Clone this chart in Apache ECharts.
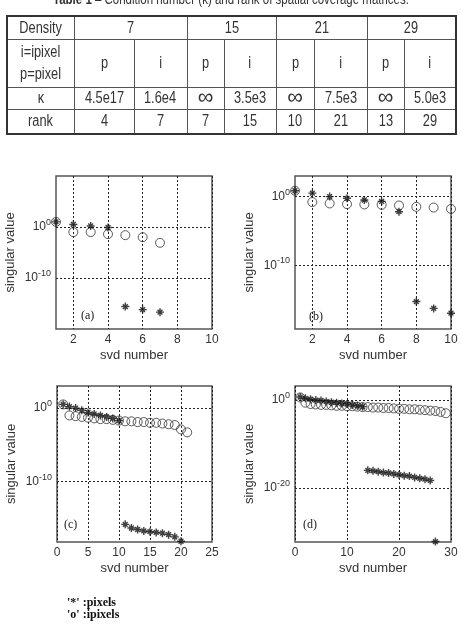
<!DOCTYPE html>
<html>
<head>
<meta charset="utf-8">
<script src="https://cdn.jsdelivr.net/npm/echarts@6/dist/echarts.min.js"></script>
<style>
  body { margin: 0; background: #fff; }
  #chart { position: absolute; left: 0; top: 0; width: 461px; height: 624px; }
  #caption {
    position: absolute; left: 0; top: -9px; width: 461px; text-align: center;
    font: 14px 'Liberation Sans', sans-serif; color: #333;
  }
  #caption span { display: inline-block; transform: scaleX(0.82); white-space: nowrap; }
  #tbl {
    position: absolute; left: 6px; top: 15px; width: 449px;
    border-collapse: collapse; table-layout: fixed;
    font: 16px 'Liberation Sans', sans-serif; color: #333;
    border: 2px solid #333;
  }
  #tbl td { border: 1px solid #555; text-align: center; vertical-align: middle; padding: 0; }
  #tbl td span { display: inline-block; transform: scaleX(0.8); white-space: nowrap; }
  #tbl td span.inf { font-size: 22px; line-height: 16px; transform: none; }
</style>
</head>
<body>
<div id="chart"></div>
<div id="caption"><span><b>Table 1</b> – Condition number (κ) and rank of spatial coverage matrices.</span></div>
<table id="tbl"></table>
<script>
// table data
const densities = [7, 15, 21, 29];
const kappaPixel = ['4.5e17', '∞', '∞', '∞'];
const kappaIpixel = ['1.6e4', '3.5e3', '7.5e3', '5.0e3'];
const rankPixel = [4, 7, 10, 13];
const rankIpixel = [7, 15, 21, 29];

// log10 of singular values, index = svd number - 1
const pixelsA = [1.0, 0.5, 0.2, -0.1, -15.6, -16.2, -16.7];
const ipixelsA = [1.0, -1.0, -1.0, -1.4, -1.6, -2.0, -3.1];
const pixelsB = [0.85, 0.5, 0.0, -0.25, -0.5, -0.7, -2.2, -15.3, -16.3, -17.0];
const ipixelsB = [0.85, -0.8, -1.0, -1.1, -1.15, -1.2, -1.3, -1.5, -1.6, -1.8];
const pixelsC = [0.5, 0.2, 0.0, -0.3, -0.6, -0.8, -1.0, -1.2, -1.4, -1.7,
  -15.8, -16.3, -16.5, -16.7, -16.8, -16.9, -17.0, -17.2, -17.5, -18.1];
const ipixelsC = [0.5, -1.0, -1.1, -1.2, -1.3, -1.4, -1.5, -1.5, -1.6, -1.7, -1.8,
  -1.8, -1.9, -1.9, -2.0, -2.0, -2.1, -2.2, -2.3, -2.9, -3.3];
const pixelsD = [0.7, 0.4, 0.2, 0.0, -0.1, -0.3, -0.5, -0.6, -0.8, -0.9, -1.1, -1.3, -1.5,
  -16.0, -16.1, -16.3, -16.5, -16.6, -16.8, -17.0, -17.2, -17.3, -17.6, -17.8, -18.0, -18.3,
  -32.2];
const ipixelsD = [0.6, -0.6, -0.9, -1.0, -1.1, -1.1, -1.2, -1.3, -1.3, -1.4, -1.4, -1.5, -1.6,
  -1.6, -1.7, -1.7, -1.8, -1.8, -1.9, -2.0, -2.0, -2.1, -2.1, -2.2, -2.3, -2.4, -2.5, -2.7, -3.0];

const panelNames = ['(a)', '(b)', '(c)', '(d)'];
const xTicks = [[2, 4, 6, 8, 10], [2, 4, 6, 8, 10], [0, 5, 10, 15, 20, 25], [0, 10, 20, 30]];
const yTicks = [[-10, 0], [-10, 0], [-10, 0], [-20, 0]];
const xRange = [[1, 10], [1, 10], [0, 25], [0, 30]];
const yRange = [[-20, 10], [-19.3, 3], [-18.2, 3], [-32.3, 3.2]];

// build table
(function () {
    const tbl = document.getElementById('tbl');
    const widths = [67, 60, 53, 37, 52, 38, 53, 37, 52];
    const c = (t, attr) => '<td' + (attr || '') + '><span' + (t === '∞' ? ' class="inf"' : '') + '>' + t + '</span></td>';
    let html = '<colgroup>' + widths.map(w => '<col style="width:' + w + 'px">').join('') + '</colgroup>';
    html += '<tr style="height:23px">' + c('Density') +
        densities.map(d => c(d, ' colspan="2"')).join('') + '</tr>';
    html += '<tr style="height:48px">' + c('i=ipixel<br>p=pixel', ' style="line-height:22px"') +
        densities.map(() => c('p') + c('i')).join('') + '</tr>';
    html += '<tr style="height:22px">' + c('κ') +
        densities.map((d, i) => c(kappaPixel[i]) + c(kappaIpixel[i])).join('') + '</tr>';
    html += '<tr style="height:25px">' + c('rank') +
        densities.map((d, i) => c(rankPixel[i]) + c(rankIpixel[i])).join('') + '</tr>';
    tbl.innerHTML = html;
})();

const myChart = echarts.init(document.getElementById('chart'));

const gridPos = [
    { left: 56, top: 176, width: 156, height: 153 },
    { left: 295, top: 176, width: 156, height: 153 },
    { left: 57, top: 386, width: 155, height: 156 },
    { left: 295, top: 386, width: 156, height: 156 }
];
const labelPos = [[90, 318], [318, 319], [73, 527], [312, 527]];

const starPath = 'path://M5,0L5,10M0,5L10,5M2,2L8,8M8,2L2,8';
const sansNarrow = "'Liberation Sans Narrow', 'Liberation Sans', sans-serif";

function toPoints(arr) {
    return arr.map((v, i) => [i + 1, v]);
}

const pixelSets = [pixelsA, pixelsB, pixelsC, pixelsD];
const ipixelSets = [ipixelsA, ipixelsB, ipixelsC, ipixelsD];

let grids = [], xAxes = [], yAxes = [], series = [], graphics = [];
for (let k = 0; k < 4; k++) {
    grids.push(Object.assign({
        show: true, borderColor: '#555', borderWidth: 1.5,
        backgroundColor: '#fff', containLabel: false, outerBoundsMode: 'none'
    }, gridPos[k]));
    xAxes.push({
        type: 'value', gridIndex: k, min: xRange[k][0], max: xRange[k][1],
        name: 'svd number', nameLocation: 'middle', nameGap: 20,
        nameTextStyle: { fontSize: 13, color: '#333', fontFamily: 'Liberation Sans' },
        axisLine: { show: false },
        axisTick: { show: false, customValues: xTicks[k] },
        axisLabel: {
            customValues: xTicks[k], margin: 5, color: '#333',
            fontSize: 12, fontFamily: sansNarrow
        },
        splitLine: { show: true, lineStyle: { color: '#222', type: [2, 2], width: 1 } }
    });
    yAxes.push({
        type: 'value', gridIndex: k, min: yRange[k][0], max: yRange[k][1],
        name: 'singular value', nameLocation: 'middle', nameGap: 39, nameRotate: 90,
        nameTextStyle: { fontSize: 13, color: '#333', fontFamily: 'Liberation Sans' },
        axisLine: { show: false },
        axisTick: { show: false, customValues: yTicks[k] },
        axisLabel: {
            customValues: yTicks[k], margin: 5, color: '#333',
            formatter: v => '{b|10}{s|' + v + '}',
            rich: {
                b: { fontSize: 12, fontFamily: sansNarrow, color: '#333' },
                s: { fontSize: 9, fontFamily: sansNarrow, color: '#333', padding: [0, 0, 9, 0] }
            }
        },
        splitLine: { show: true, lineStyle: { color: '#222', type: [2, 2], width: 1 } }
    });
    series.push({
        type: 'scatter', name: 'ipixels', xAxisIndex: k, yAxisIndex: k,
        symbol: 'circle', symbolSize: 9,
        itemStyle: { color: 'rgba(0,0,0,0)', borderColor: '#333', borderWidth: 1 },
        data: toPoints(ipixelSets[k])
    });
    series.push({
        type: 'scatter', name: 'pixels', xAxisIndex: k, yAxisIndex: k,
        symbol: starPath, symbolSize: 8,
        itemStyle: { color: 'rgba(0,0,0,0)', borderColor: '#111', borderWidth: 1.4 },
        data: toPoints(pixelSets[k])
    });
    graphics.push({
        type: 'text', left: labelPos[k][0] - 9, top: labelPos[k][1] - 8,
        style: { text: panelNames[k], fontSize: 12, fontFamily: 'Liberation Serif', fill: '#222' }
    });
}

graphics.push({
    type: 'text', left: 67, top: 597,
    style: { text: "'*' :pixels", fontSize: 12, fontWeight: 'bold', fontFamily: 'Liberation Serif', fill: '#111' }
});
graphics.push({
    type: 'text', left: 67, top: 609,
    style: { text: "'o' :ipixels", fontSize: 12, fontWeight: 'bold', fontFamily: 'Liberation Serif', fill: '#111' }
});

const option = {
    backgroundColor: '#fff',
    animation: false,
    grid: grids,
    xAxis: xAxes,
    yAxis: yAxes,
    series: series,
    graphic: graphics
};
myChart.setOption(option);
</script>
</body>
</html>
